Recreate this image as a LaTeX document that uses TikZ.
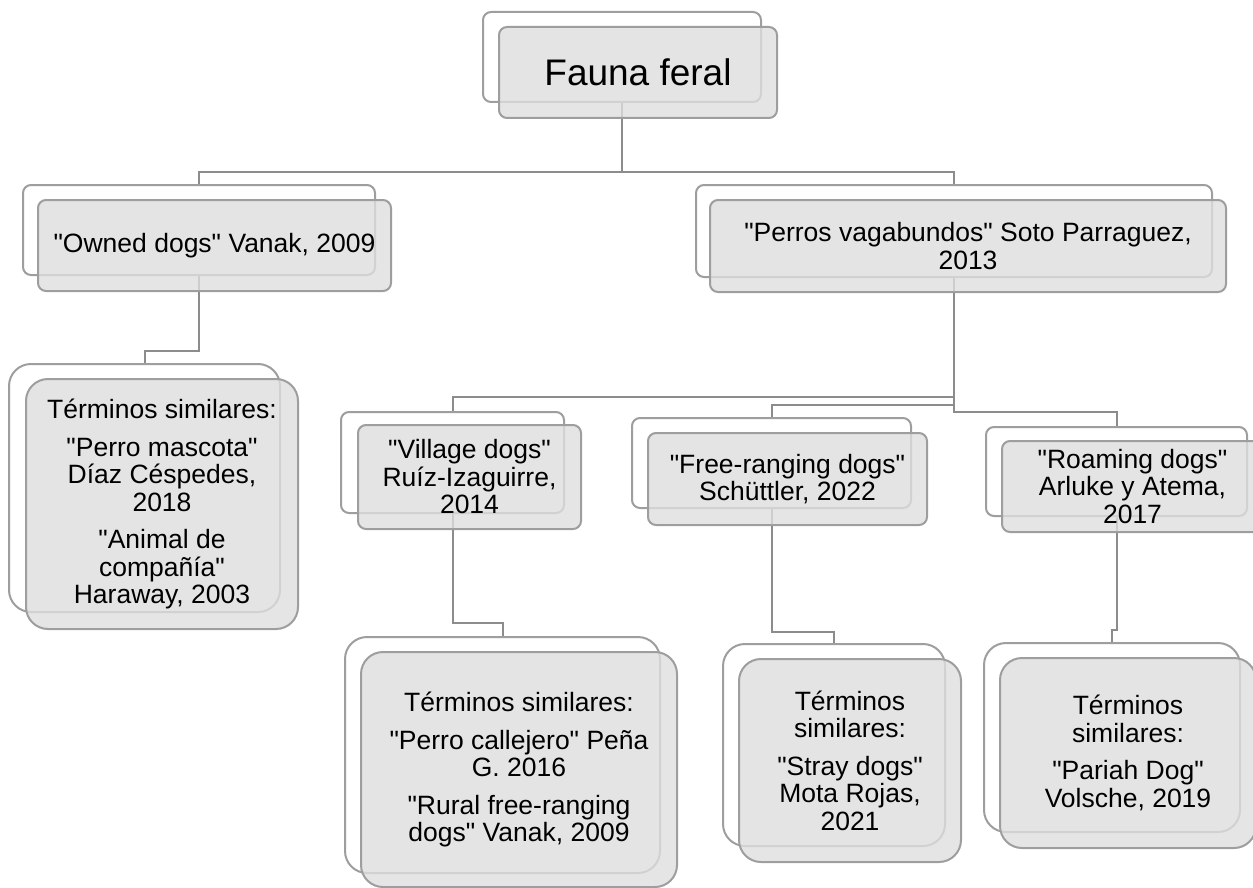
\documentclass[tikz,border=0pt]{standalone}
\usepackage{fontspec}
\setmainfont{Liberation Sans}[Ligatures=TeXOff]
\usetikzlibrary{backgrounds}
\definecolor{bordc}{RGB}{158,158,158}
\definecolor{connc}{RGB}{140,140,140}
\definecolor{frontc}{RGB}{222,222,222}
\begin{document}
\begin{tikzpicture}[x=1pt,y=-1pt,
 backbox/.style={draw=bordc, fill=white, line width=2pt, rounded corners=8pt, inner sep=0pt, outer sep=0pt},
 frontbox/.style={draw=bordc, fill=frontc, fill opacity=0.8, text opacity=1, line width=2pt, rounded corners=8pt, inner sep=0pt, outer sep=0pt, align=center, font=\fontsize{26.5}{27.5}\selectfont},
 tallr/.style={rounded corners=22pt},
 conn/.style={draw=connc, line width=2pt}]
\useasboundingbox (0,0) rectangle (1253,888);

% top
\node[backbox, minimum width=278pt, minimum height=90pt] (topb) at (622,57) {};
\node[frontbox, minimum width=278pt, minimum height=91pt, font=\fontsize{37}{40}\selectfont] (top) at (638,72.5) {Fauna feral};

% level 1
\node[backbox, minimum width=352pt, minimum height=90pt] (ownb) at (199,230) {};
\node[frontbox, minimum width=353pt, minimum height=91pt] (own) at (214.5,245.5) {"Owned dogs" Vanak, 2009};

\node[backbox, minimum width=516pt, minimum height=92pt] (pvb) at (954,231) {};
\node[frontbox, minimum width=516pt, minimum height=92pt] (pv) at (968,246) {"Perros vagabundos" Soto Parraguez,\\2013};

% left terms
\node[backbox, tallr, minimum width=271pt, minimum height=248pt] (ts1b) at (144.5,488) {};
\node[frontbox, tallr, minimum width=272pt, minimum height=250pt] (ts1) at (162,504) {Términos similares:\\[10pt]"Perro mascota"\\Díaz Céspedes,\\2018\\[10pt]"Animal de\\compañía"\\Haraway, 2003};

% level 2
\node[backbox, minimum width=223pt, minimum height=101pt] (vilb) at (452.5,462.5) {};
\node[frontbox, minimum width=223pt, minimum height=104pt] (vil) at (469.5,477) {"Village dogs"\\Ruíz-Izaguirre,\\2014};

\node[backbox, minimum width=279pt, minimum height=90pt] (freeb) at (771.5,463) {};
\node[frontbox, minimum width=279pt, minimum height=92pt] (free) at (787.5,479) {"Free-ranging dogs"\\Schüttler, 2022};

\node[backbox, minimum width=261pt, minimum height=89pt] (roamb) at (1116.5,471.5) {};
\node[frontbox, minimum width=261pt, minimum height=91pt] (roam) at (1132.5,486.5) {"Roaming dogs"\\Arluke y Atema,\\2017};

% level 3
\node[backbox, tallr, minimum width=315pt, minimum height=236pt] (ts2b) at (502.5,755) {};
\node[frontbox, tallr, minimum width=316pt, minimum height=235pt] (ts2) at (519,769.5) {Términos similares:\\[10pt]"Perro callejero" Peña\\G. 2016\\[10pt]"Rural free-ranging\\dogs" Vanak, 2009};

\node[backbox, tallr, minimum width=222pt, minimum height=202pt] (ts3b) at (834,745) {};
\node[frontbox, tallr, minimum width=222pt, minimum height=203pt] (ts3) at (850,760.5) {Términos\\similares:\\[10pt]"Stray dogs"\\Mota Rojas,\\2021};

\node[backbox, tallr, minimum width=256pt, minimum height=189pt] (ts4b) at (1112,737.5) {};
\node[frontbox, tallr, minimum width=256pt, minimum height=190pt] (ts4) at (1128,753) {Términos\\similares:\\[10pt]"Pariah Dog"\\Volsche, 2019};

% connectors
\coordinate (j0) at (622,172);
\coordinate (j1) at (144.5,351);
\coordinate (j2) at (954,397);
\coordinate (j3) at (954,405);
\coordinate (j4) at (954,412);
\coordinate (j5) at (452.5,623);
\coordinate (j6) at (771.5,632);
\coordinate (j7) at (1116.5,630);

\begin{pgfonlayer}{background}
\draw[conn] (topb.south) -- (j0);
\draw[conn] (ownb.north) |- (j0) -| (pvb.north);
\draw[conn] (ownb.south) |- (j1) -- (ts1b.north);
\draw[conn] (pvb.south) -- (j4) -| (roamb.north);
\draw[conn] (j2) -| (vilb.north);
\draw[conn] (j3) -| (freeb.north);
\draw[conn] (vilb.south) -- (j5) -| (ts2b.north);
\draw[conn] (freeb.south) -- (j6) -| (ts3b.north);
\draw[conn] (roamb.south) -- (j7) -| (ts4b.north);
\end{pgfonlayer}
\end{tikzpicture}
\end{document}
